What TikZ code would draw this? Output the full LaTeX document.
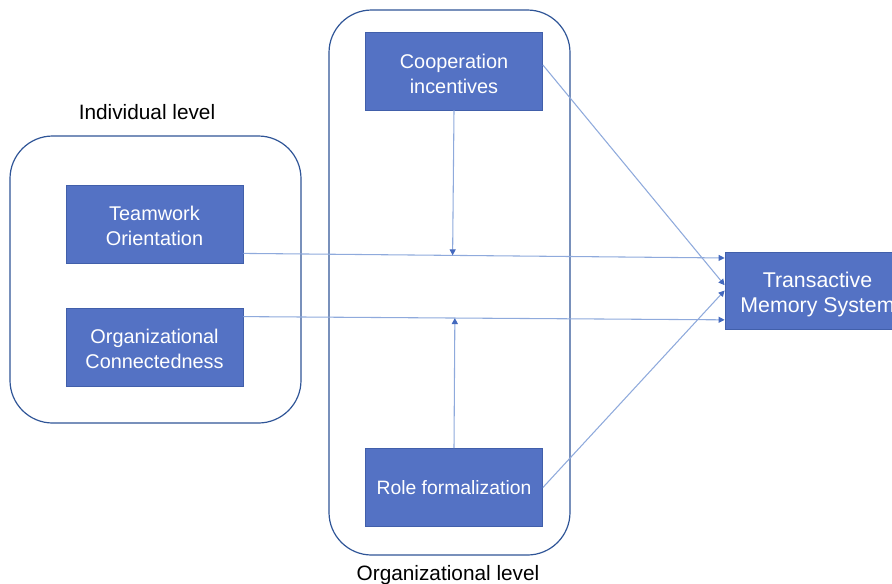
\documentclass[tikz,border=0pt]{standalone}
\usepackage{fontspec}
\setmainfont{Liberation Sans}
\usetikzlibrary{calc,arrows.meta}
\definecolor{boxfill}{RGB}{84,114,196}
\definecolor{boxedge}{RGB}{65,95,170}
\definecolor{grpedge}{RGB}{47,85,151}
\definecolor{linkc}{RGB}{143,170,220}
\definecolor{tipc}{RGB}{68,105,190}
\begin{document}
\begin{tikzpicture}[x=0.75pt,y=-0.75pt,
  factor/.style={draw=boxedge,line width=0.6pt,fill=boxfill,
    minimum width=132.75pt,minimum height=58.5pt,inner sep=0pt},
  ftext/.style={text=white,align=center,inner sep=0pt,
    font=\fontsize{14.9}{18.2}\selectfont},
  group/.style={draw=grpedge,line width=0.9pt,rounded corners=32pt,inner sep=0pt},
  lbl/.style={font=\fontsize{15.6}{18}\selectfont,inner sep=0pt},
  link/.style={draw=linkc,line width=0.8pt,-{Triangle[length=4.5pt,width=4.5pt,color=tipc]}}]
\clip (0,0) rectangle (892,583);
% groups
\node[group,minimum width=218.25pt,minimum height=215.25pt] (gind) at (155.5,279.5) {};
\node[group,minimum width=180.75pt,minimum height=408.75pt] (gorg) at (449.5,282.5) {};
% factors
\node[factor,label={[ftext,yshift=-1.5pt]center:Teamwork\\Orientation}] (tw) at (154.5,224) {};
\node[factor,label={[ftext,yshift=-1.5pt]center:Organizational\\Connectedness}] (oc) at (154.5,347) {};
\node[factor,label={[ftext,yshift=-2.25pt]center:Cooperation\\incentives}] (co) at (454,71) {};
\node[factor,label={[ftext,font=\fontsize{14.5}{18}\selectfont]center:Role formalization}] (rf) at (454,487.5) {};
\node[factor,minimum width=138.75pt,minimum height=57.75pt,
  label={[ftext,font=\fontsize{16}{19}\selectfont,yshift=-3.2pt]center:Transactive\\Memory System}] (tms) at (817.5,290.5) {};
% labels
\node[lbl] (lind) at (147,112) {Individual level};
\node[lbl,anchor=base] (lorg) at (448,580) {Organizational level};
% anchor points
\coordinate (twout) at ([yshift=7.5pt]tw.south east);
\coordinate (ocout) at ([yshift=-6.75pt]oc.north east);
\coordinate (tmsA) at ([yshift=24.4pt]tms.west);
\coordinate (tmsB) at ([yshift=-22pt]tms.west);
\coordinate (tmsC) at ([yshift=4pt]tms.west);
\coordinate (tmsD) at ([yshift=0pt]tms.west);
\coordinate (coout) at ([yshift=4.5pt]co.east);
% connectors
\draw[link] (twout) -- (tmsA);
\draw[link] (ocout) -- (tmsB);
\draw[link] (coout) -- (tmsC);
\draw[link] (rf.east) -- (tmsD);
\draw[link] (co.south) -- ($(twout)!(co.south)!(tmsA)$);
\draw[link] (rf.north) -- ($(ocout)!(rf.north)!(tmsB)$);
\end{tikzpicture}
\end{document}
